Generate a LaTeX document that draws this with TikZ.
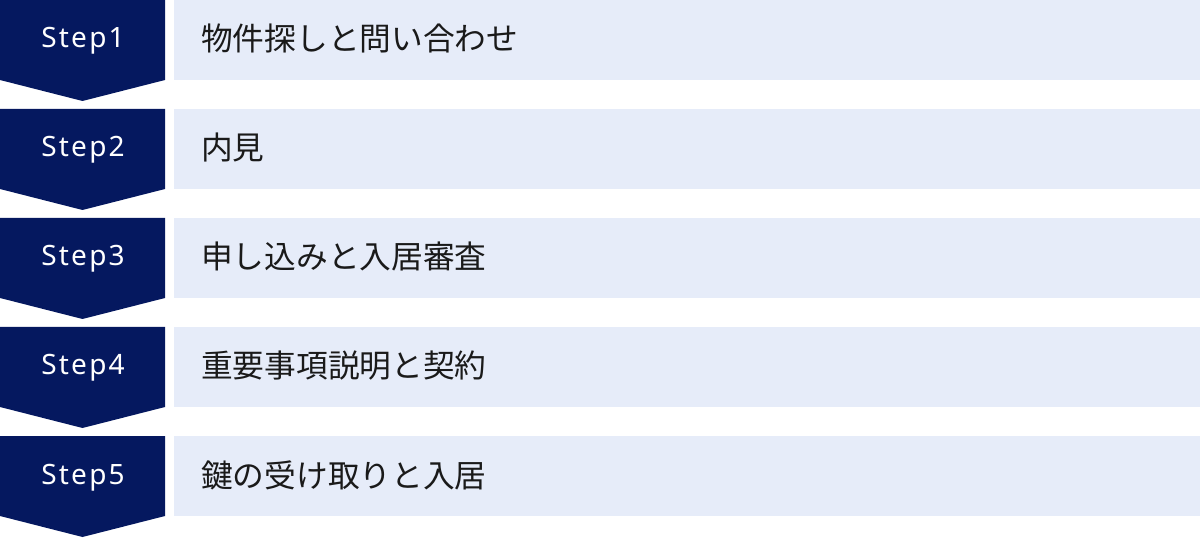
\documentclass[tikz,border=0pt]{standalone}
\usepackage{fontspec}
\setmainfont{Noto Sans CJK JP}
\newfontfamily\stepfont[LetterSpace=8]{Noto Sans}
\definecolor{navy}{HTML}{05185F}
\definecolor{pale}{HTML}{E6ECF9}
\definecolor{ink}{HTML}{1A1A1A}
\tikzset{
  chevron/.style={fill=navy},
  stepnum/.style={text=white, inner sep=0pt, anchor=base, font=\stepfont\fontsize{28bp}{28bp}\selectfont},
  panel/.style={fill=pale, draw=none, minimum width=1026bp, minimum height=80bp, inner sep=0pt, anchor=north west},
  steptext/.style={text=ink, inner sep=0pt, anchor=base west, font=\fontsize{31.7bp}{31.7bp}\selectfont},
}
\begin{document}
\begin{tikzpicture}[x=1bp,y=-1bp]
\useasboundingbox (0,0) rectangle (1200,538);
\foreach \i/\txt in {1/物件探しと問い合わせ,2/内見,3/申し込みと入居審査,4/重要事項説明と契約,5/鍵の受け取りと入居}{
  \pgfmathsetmacro{\t}{109*(\i-1)}
  \fill[chevron] (0,\t) -- (165,\t) -- (165,\t+80) -- (82.5,\t+101) -- (0,\t+80) -- cycle;
  \node[stepnum] (s\i) at (83,\t+48) {Step\i};
  \node[panel] (b\i) at (174,\t) {};
  \node[steptext] (l\i) at (201,\t+51) {\txt};
}
\end{tikzpicture}
\end{document}
